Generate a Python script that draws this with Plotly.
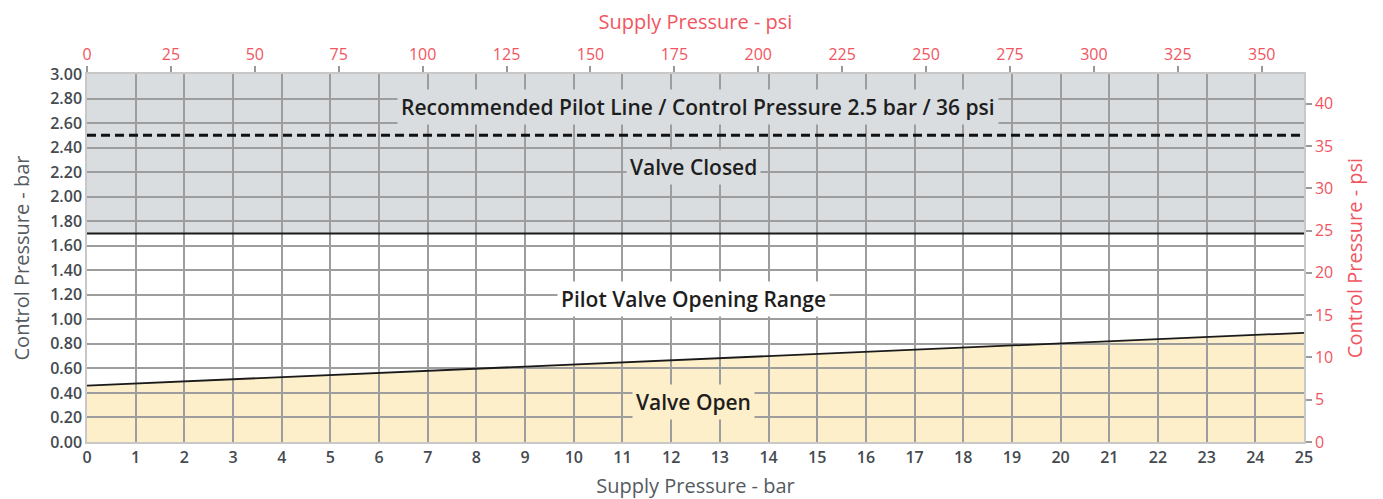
import plotly.graph_objects as go

# ---- data ----
supply_bar = [0, 25]                 # supply pressure range (bar)
open_limit_bar = [0.46, 0.89]        # upper bound of "Valve Open" region at supply_bar ends
closed_limit_bar = [1.70, 1.70]      # lower bound of "Valve Closed" region
recommended_bar = [2.5, 2.5]         # recommended pilot/control pressure
y_max_bar = 3.0
BAR_TO_PSI = 14.5038

x_ticks_bar = list(range(0, 26))
y_ticks_bar = [round(i * 0.2, 2) for i in range(16)]
x_ticks_psi = list(range(0, 351, 25))
y_ticks_psi = list(range(0, 41, 5))

labels = [
    ("Recommended Pilot Line / Control Pressure 2.5 bar / 36 psi", 12.55, 2.73, "#d9dde0"),
    ("Valve Closed", 12.45, 2.24, "#d9dde0"),
    ("Pilot Valve Opening Range", 12.45, 1.165, "#ffffff"),
    ("Valve Open", 12.45, 0.33, "#fdefca"),
]

GRAY_FILL = "#d9dde0"
YELLOW_FILL = "#fdefca"
GRID = "#9d9d9d"
RED = "#f2555f"
DARK = "#444a50"
FONT = "Open Sans"

fig = go.Figure()

# boundary lines
fig.add_trace(go.Scatter(x=supply_bar, y=open_limit_bar, mode="lines",
                         line=dict(color="#1a1a1a", width=1.8), hoverinfo="skip", showlegend=False))
fig.add_trace(go.Scatter(x=supply_bar, y=closed_limit_bar, mode="lines",
                         line=dict(color="#1a1a1a", width=2), hoverinfo="skip", showlegend=False))
fig.add_trace(go.Scatter(x=supply_bar, y=recommended_bar, mode="lines",
                         line=dict(color="#111111", width=3, dash="9px,5px"), hoverinfo="skip", showlegend=False))
# psi axes carrier (invisible)
fig.add_trace(go.Scatter(x=[supply_bar[0] * BAR_TO_PSI, supply_bar[1] * BAR_TO_PSI],
                         y=[0, y_max_bar * BAR_TO_PSI], xaxis="x2", yaxis="y2",
                         mode="markers", marker=dict(opacity=0), hoverinfo="skip", showlegend=False))

# region fills (below gridlines)
fig.add_shape(type="rect", xref="x", yref="y", x0=supply_bar[0], x1=supply_bar[1],
              y0=closed_limit_bar[0], y1=y_max_bar, fillcolor=GRAY_FILL, line_width=0, layer="below")
path = (f"M {supply_bar[0]},0 L {supply_bar[0]},{open_limit_bar[0]} "
        f"L {supply_bar[1]},{open_limit_bar[1]} L {supply_bar[1]},0 Z")
fig.add_shape(type="path", xref="x", yref="y", path=path, fillcolor=YELLOW_FILL, line_width=0, layer="below")

for text, x, y, bg in labels:
    fig.add_annotation(x=x, y=y, xref="x", yref="y", text=text, showarrow=False,
                       font=dict(family=FONT, size=21, color="#1e1e1e", weight=600),
                       bgcolor=bg, borderpad=3)

tickfont = dict(family=FONT, size=16, color=DARK, weight=600)
redfont = dict(family=FONT, size=16, color=RED, weight=500)
titlefont = dict(family=FONT, size=20, color="#555a60")
redtitle = dict(family=FONT, size=20, color=RED)

fig.update_layout(
    width=1383, height=499,
    margin=dict(l=79, r=87, t=66, b=65),
    paper_bgcolor="white", plot_bgcolor="white",
    xaxis=dict(range=[0, 25], tickvals=x_ticks_bar, ticktext=[str(v) for v in x_ticks_bar],
               showgrid=True, gridcolor=GRID, gridwidth=1.5, zeroline=False,
               showline=True, linecolor="#c8c8c8", linewidth=1.5, automargin=False,
               ticks="", tickfont=tickfont,
               title=dict(text="Supply Pressure - bar", font=titlefont, standoff=12)),
    yaxis=dict(range=[0, y_max_bar], tickvals=y_ticks_bar, ticktext=[f"{v:.2f}" for v in y_ticks_bar],
               showgrid=True, gridcolor=GRID, gridwidth=1.5, zeroline=False,
               showline=True, linecolor="#c8c8c8", linewidth=1.5, automargin=False,
               ticks="", tickfont=tickfont,
               title=dict(text="Control Pressure - bar", font=titlefont, standoff=20)),
    xaxis2=dict(range=[0, supply_bar[1] * BAR_TO_PSI], overlaying="x", side="top", anchor="y",
                tickvals=x_ticks_psi, showgrid=False, zeroline=False,
                showline=True, linecolor="#c8c8c8", linewidth=1.5, automargin=False,
                ticks="outside", ticklen=6, tickcolor="#9a9a9a", tickwidth=1.5, tickfont=redfont,
                title=dict(text="Supply Pressure - psi", font=redtitle, standoff=8)),
    yaxis2=dict(range=[0, y_max_bar * BAR_TO_PSI], overlaying="y", side="right", anchor="x",
                tickvals=y_ticks_psi, showgrid=False, zeroline=False,
                showline=True, linecolor="#c8c8c8", linewidth=1.5, automargin=False,
                ticks="outside", ticklen=6, tickcolor="#9a9a9a", tickwidth=1.5, tickfont=redfont,
                title=dict(text="Control Pressure - psi", font=redtitle, standoff=16)),
)

fig.write_html("out.html")
